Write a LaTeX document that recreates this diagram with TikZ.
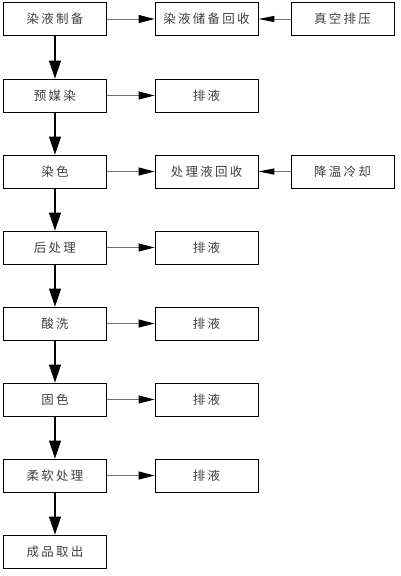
\documentclass[tikz,border=0pt]{standalone}
\usepackage{fontspec}
\newfontfamily\cjk[LetterSpace=18]{Noto Sans CJK SC}
\usetikzlibrary{arrows.meta}
\tikzset{
  box/.style={draw=black, line width=0.9pt, minimum width=103pt, minimum height=33pt, inner sep=0pt, font=\cjk\fontsize{12.5}{12.5}\selectfont, text=black!75},
  vline/.style={draw=black, line width=1.2pt, -{Triangle[length=18pt,width=12pt]}},
  hline/.style={draw=black!55, line width=1pt, -{Triangle[length=16pt,width=8pt,color=black]}},
  bline/.style={draw=black!55, line width=1pt, -{Triangle[length=16pt,width=6pt,color=black]}},
}
\begin{document}
\begin{tikzpicture}[x=1pt,y=-1pt]
\useasboundingbox (0,0) rectangle (400,576);
\node[box] (a1) at (55,19) {染液制备};
\node[box] (b1) at (206.5,19) {染液储备回收};
\node[box] (c1) at (342.5,19) {真空排压};
\node[box] (a2) at (55,95.5) {预媒染};
\node[box] (b2) at (206.5,95.5) {排液};
\node[box] (a3) at (55,171.5) {染色};
\node[box] (b3) at (206.5,171.5) {处理液回收};
\node[box] (c3) at (342.5,171.5) {降温冷却};
\node[box] (a4) at (55,247.5) {后处理};
\node[box] (b4) at (206.5,247.5) {排液};
\node[box] (a5) at (55,323.5) {酸洗};
\node[box] (b5) at (206.5,323.5) {排液};
\node[box] (a6) at (55,399.5) {固色};
\node[box] (b6) at (206.5,399.5) {排液};
\node[box] (a7) at (55,475.5) {柔软处理};
\node[box] (b7) at (206.5,475.5) {排液};
\node[box] (a8) at (55,551.5) {成品取出};
\foreach \i/\j in {1/2,2/3,3/4,4/5,5/6,6/7,7/8} \draw[vline] (a\i) -- (a\j);
\foreach \i in {1,...,7} \draw[hline] (a\i) -- (b\i);
\draw[bline] (c1) -- (b1);
\draw[bline] (c3) -- (b3);
\end{tikzpicture}
\end{document}
